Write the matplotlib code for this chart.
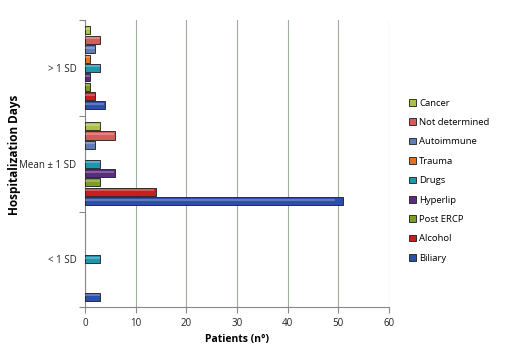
import matplotlib
matplotlib.use("Agg")
import matplotlib.pyplot as plt
import numpy as np

plt.rcParams['font.family'] = ['Open Sans', 'DejaVu Sans']

groups = ['< 1 SD', 'Mean ± 1 SD', '> 1 SD']
series = ['Biliary', 'Alcohol', 'Post ERCP', 'Hyperlip', 'Drugs',
          'Trauma', 'Autoimmune', 'Not determined', 'Cancer']
biliary = [3, 51, 4]
alcohol = [0, 14, 2]
post_ercp = [0, 3, 1]
hyperlip = [0, 6, 1]
drugs = [3, 3, 3]
trauma = [0, 0, 1]
autoimmune = [0, 2, 2]
not_determined = [0, 6, 3]
cancer = [0, 3, 1]
values = [biliary, alcohol, post_ercp, hyperlip, drugs,
          trauma, autoimmune, not_determined, cancer]
colors = ['#2b50a8', '#c81f1e', '#7d9c22', '#5a2b82', '#2096ae',
          '#e8701c', '#5d7cb8', '#d45c5a', '#a9c244']

fig = plt.figure(figsize=(5.05, 3.46), dpi=100)
ax = fig.add_axes([0.168, 0.112, 0.602, 0.830])

pitch = 0.098
h = 0.084
y = np.arange(len(groups))
handles = []
for i, (name, vals, c) in enumerate(zip(series, values, colors)):
    off = (i - 4) * pitch
    vals = np.array(vals, dtype=float)
    mask = vals > 0
    b = ax.barh(y[mask] + off, vals[mask], height=h, color=c,
                edgecolor='#1a1a1a', linewidth=0.6, label=name, zorder=3)
    # simple highlight stripe for the glossy look
    ax.barh(y[mask] + off + h * 0.18, vals[mask] * 0.97, height=h * 0.25,
            color='white', alpha=0.25, linewidth=0, zorder=4)
    handles.append(b)

ax.set_xlim(0, 60)
ax.set_ylim(-0.5, 2.5)
ax.set_xticks(range(0, 61, 10))
ax.set_yticks([-0.5, 0.5, 1.5, 2.5])
ax.set_yticklabels([])
ax.set_yticks(y, minor=True)
ax.set_yticklabels(groups, minor=True)
ax.tick_params(axis='y', which='minor', length=0, pad=6, labelsize=7, colors='#222222')
ax.tick_params(axis='y', which='major', length=4, color='#888888')
ax.tick_params(axis='x', length=4, color='#888888', labelsize=7, colors='#222222')
ax.xaxis.grid(True, color='#9fae9f', linewidth=0.8, zorder=0)
for s in ['top', 'right']:
    ax.spines[s].set_visible(False)
for s in ['left', 'bottom']:
    ax.spines[s].set_color('#888888')
    ax.spines[s].set_linewidth(0.8)

ax.set_xlabel('Patients (n°)', fontsize=7.5, fontweight='bold', labelpad=4)
ax.set_ylabel('Hospitalization Days', fontsize=8.5, fontweight='bold')
ax.yaxis.set_label_coords(-0.21, 0.53)

fig.legend(handles[::-1], series[::-1], loc='center left',
           bbox_to_anchor=(0.793, 0.478), frameon=False, fontsize=6.8,
           handlelength=0.7, handleheight=0.7, handletextpad=0.4,
           labelspacing=1.1)

fig.savefig('out.png', dpi=100)
